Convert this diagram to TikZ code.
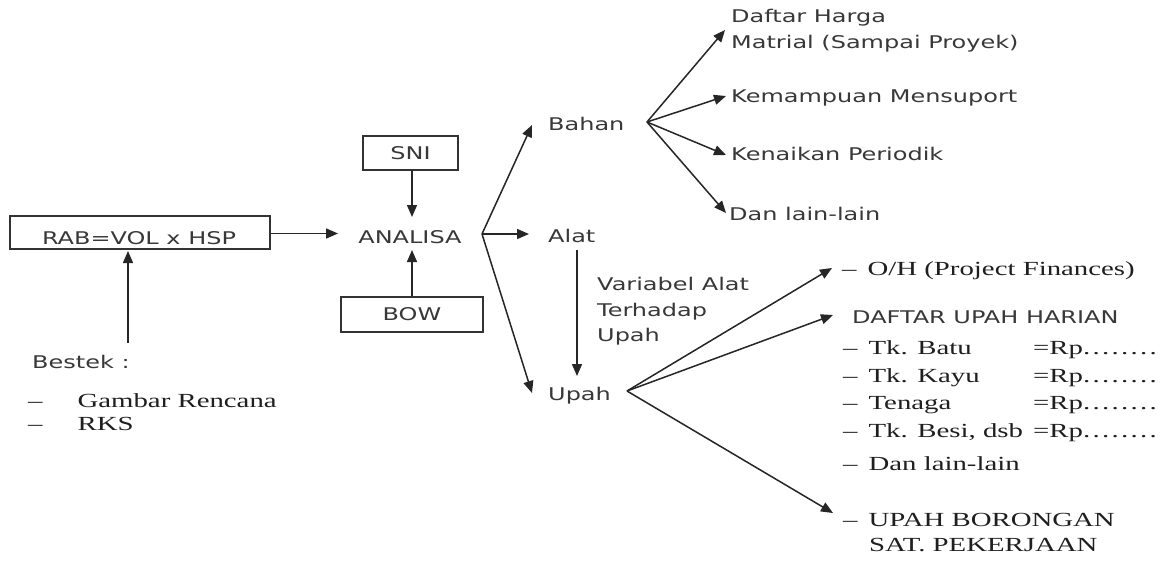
\documentclass[tikz,border=0pt]{standalone}
\usepackage{fontspec}
\usetikzlibrary{arrows.meta}
\newfontfamily\wsans[FakeStretch=1.37]{DejaVu Sans}
\newfontfamily\wserif[FakeStretch=1.44]{Liberation Serif}
\newcommand{\rpdot}{.\kern2.3pt}
\newcommand{\rpdots}{\rpdot\rpdot\rpdot\rpdot\rpdot\rpdot\rpdot\rpdot}
\begin{document}
\begin{tikzpicture}[x=1pt,y=-1pt,
  sans/.style={font=\wsans\fontsize{17.5}{21}\selectfont, text=black!78, inner sep=0pt, text height=12.8pt, text depth=0pt, anchor=west},
  serif/.style={font=\wserif\fontsize{20}{24}\selectfont, text=black!88, inner sep=0pt, text height=13.2pt, text depth=0pt, anchor=west},
  box/.style={draw=black!80, line width=1.2pt, inner sep=0pt},
  ln/.style={draw=black!85, line width=1.5pt},
  arr/.style={ln, -{Triangle[length=12pt,width=10pt]}}]
\fill[white] (0,0) rectangle (1162,560);
\useasboundingbox (0,0) rectangle (1162,560);

% left part
\node[box, minimum width=260pt, minimum height=33pt] (rab) at (140,232.5) {};
\node[sans, anchor=center] (rabt) at (139,238) {RAB=VOL x HSP};
\node[sans] (bestek) at (32,362) {Bestek :};
\node[serif] (gambar) at (28,401) {–\hspace{35pt}Gambar Rencana};
\node[serif] (rks) at (28,423.5) {–\hspace{35pt}RKS};
\coordinate (bsTop) at (128,343);
\coordinate (bsTip) at (128,251);
\draw[arr] (bsTop) -- (bsTip);

% analisa
\node[sans, anchor=center] (analisa) at (410,237) {ANALISA};
\node[box, minimum width=95pt, minimum height=34pt] (sni) at (410.5,153) {};
\node[sans, anchor=center] at (sni.center) {SNI};
\node[box, minimum width=142pt, minimum height=35pt] (bow) at (412,314.5) {};
\node[sans, anchor=center] at (bow.center) {BOW};
\coordinate (aIn) at (338,233.5);
\draw[arr] (rab.east |- aIn) -- (aIn);
\coordinate (sniTip) at (412,217);
\draw[arr] (sni.south -| sniTip) -- (sniTip);
\coordinate (bowTip) at (412,250);
\draw[arr] (bow.north -| bowTip) -- (bowTip);

% first branching
\coordinate (jA) at (482,234);
\node[sans] (bahan) at (548,124.5) {Bahan};
\node[sans] (alat) at (548,236) {Alat};
\node[sans] (upah) at (548,394) {Upah};
\coordinate (tB) at (532,125);
\coordinate (tAl) at (529,234);
\coordinate (tU) at (532,393);
\draw[arr] (jA) -- (tB);
\draw[arr] (jA) -- (tAl);
\draw[arr] (jA) -- (tU);

% alat -> upah
\coordinate (avS) at (577,250);
\coordinate (avE) at (577,376);
\draw[arr] (avS) -- (avE);
\node[sans] (var1) at (597,284.5) {Variabel Alat};
\node[sans] (var2) at (597,310.5) {Terhadap};
\node[sans] (var3) at (597,335.5) {Upah};

% bahan branches
\coordinate (jB) at (647,122);
\node[sans] (b1a) at (731,16) {Daftar Harga};
\node[sans] (b1b) at (731,42) {Matrial (Sampai Proyek)};
\node[sans] (b2) at (731,96) {Kemampuan Mensuport};
\node[sans] (b3) at (731,154) {Kenaikan Periodik};
\node[sans] (b4) at (729,214.5) {Dan lain-lain};
\coordinate (t1) at (725,30);
\coordinate (t2) at (726,96);
\coordinate (t3) at (726,155);
\coordinate (t4) at (726,213);
\draw[arr] (jB) -- (t1);
\draw[arr] (jB) -- (t2);
\draw[arr] (jB) -- (t3);
\draw[arr] (jB) -- (t4);

% upah branches
\coordinate (jU) at (627,391);
\coordinate (u1) at (832,268);
\coordinate (u2) at (833,315);
\coordinate (u3) at (833,513);
\draw[arr] (jU) -- (u1);
\draw[arr] (jU) -- (u2);
\draw[arr] (jU) -- (u3);

\node[serif] (oh) at (842,268.5) {–\hspace{11pt}O/H (Project Finances)};
\node[sans] (daftar) at (852,317.5) {DAFTAR UPAH HARIAN};
\node[serif] (tk1) at (843,347.5) {–\hspace{11pt}Tk. Batu};
\node[serif] (tk2) at (843,376) {–\hspace{11pt}Tk. Kayu};
\node[serif] (tk3) at (843,402.5) {–\hspace{11pt}Tenaga};
\node[serif] (tk4) at (843,431) {–\hspace{11pt}Tk. Besi, dsb};
\node[serif] (rp1) at (1033,347.5) {=Rp\rpdots};
\node[serif] (rp2) at (1033,376) {=Rp\rpdots};
\node[serif] (rp3) at (1033,402.5) {=Rp\rpdots};
\node[serif] (rp4) at (1033,431) {=Rp\rpdots};
\node[serif] (dll) at (843,464) {–\hspace{11pt}Dan lain-lain};
\node[serif] (bor1) at (843,520) {–\hspace{11pt}UPAH BORONGAN};
\node[serif] (bor2) at (869,545) {SAT. PEKERJAAN};
\end{tikzpicture}
\end{document}
